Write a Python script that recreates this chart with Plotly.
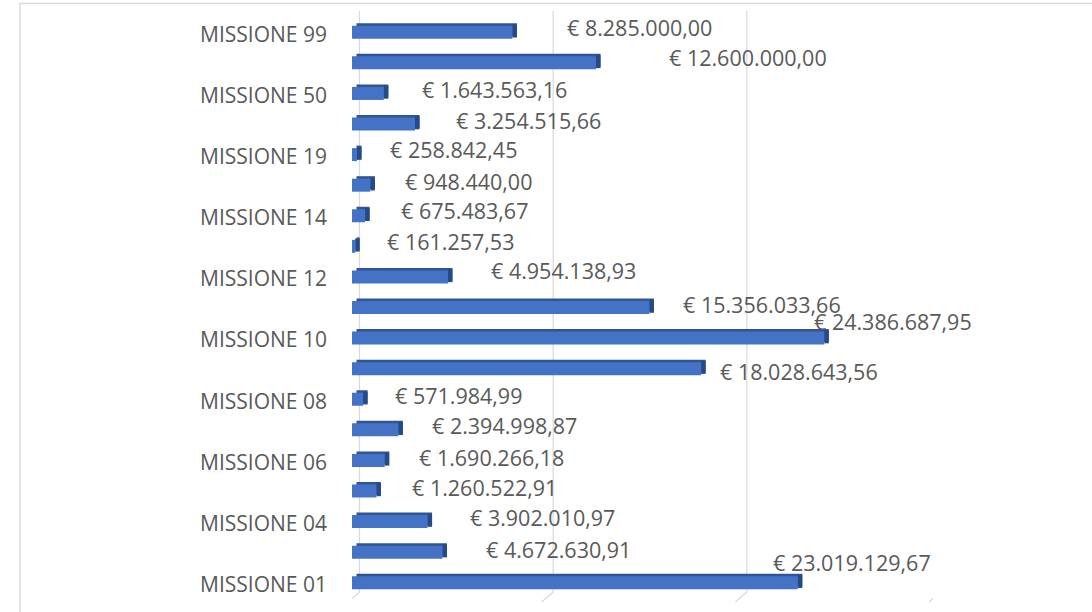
import plotly.graph_objects as go

# ---------------- data ----------------
categories = ["MISSIONE 01", "MISSIONE 03", "MISSIONE 04", "MISSIONE 05", "MISSIONE 06",
              "MISSIONE 07", "MISSIONE 08", "MISSIONE 09", "MISSIONE 10", "MISSIONE 11",
              "MISSIONE 12", "MISSIONE 13", "MISSIONE 14", "MISSIONE 16", "MISSIONE 19",
              "MISSIONE 20", "MISSIONE 50", "MISSIONE 60", "MISSIONE 99"]
values = [23019129.67, 4672630.91, 3902010.97, 1260522.91, 1690266.18,
          2394998.87, 571984.99, 18028643.56, 24386687.95, 15356033.66,
          4954138.93, 161257.53, 675483.67, 948440.00, 258842.45,
          3254515.66, 1643563.16, 12600000.00, 8285000.00]
shown_ticks = ["MISSIONE 01", "MISSIONE 04", "MISSIONE 06", "MISSIONE 08", "MISSIONE 10",
               "MISSIONE 12", "MISSIONE 14", "MISSIONE 19", "MISSIONE 50", "MISSIONE 99"]
grid_vals = [0, 10_000_000, 20_000_000, 30_000_000]

# ---------------- layout tweaks (label placement, px) ----------------
label_gap = [-25, 44, 42, 36, 34, 34, 32, 19, -10, 34, 43, 32, 36, 35, 33, 41, 38, 73, 55]
label_lift = [20, 3, 4, 3, 3, 4, 3.5, -2.5, 16.5, 3, 6, 5, 5, 4, 5, 4, 4, 5, 5]

W, H = 1092, 612
L, R, T, B = 352, 933, 17, 598
PW, PH = R - L, B - T
XMAX = 30_000_000
px_per_val = PW / XMAX
slot_px = PH / len(categories)

bar_w = 13 / slot_px
front_off = -bar_w / 2
depth_x_px, depth_y_px = 4.5, 2.5
depth_val = depth_x_px / px_per_val

FRONT = "#4472C4"
TOP = "#2F5597"
SIDE = "#264A88"
TXT = "#595959"
GRID = "#D9D9D9"
FONT = "Open Sans"


def fmt_eur(v):
    s = f"{v:,.2f}".replace(",", "X").replace(".", ",").replace("X", ".")
    return "€ " + s


def ypaper(py):
    return (B - py) / PH


fig = go.Figure()

# top face
fig.add_trace(go.Bar(
    orientation="h", y=categories, x=values, base=[depth_val] * len(values),
    width=bar_w, offset=front_off + depth_y_px / slot_px,
    marker=dict(color=TOP, line=dict(width=0)), hoverinfo="skip", showlegend=False))
# side face
fig.add_trace(go.Bar(
    orientation="h", y=categories, x=[depth_val] * len(values), base=values,
    width=bar_w, offset=front_off + (depth_y_px / 2) / slot_px,
    marker=dict(color=SIDE, line=dict(width=0)), hoverinfo="skip", showlegend=False))
# front face
fig.add_trace(go.Bar(
    orientation="h", y=categories, x=values,
    width=bar_w, offset=front_off,
    marker=dict(color=FRONT, line=dict(width=0)), showlegend=False))

# value labels
for cat, v, g, lift in zip(categories, values, label_gap, label_lift):
    fig.add_annotation(x=v, y=cat, xref="x", yref="y", text=fmt_eur(v),
                       showarrow=False, xanchor="left", yanchor="middle",
                       xshift=g - 2, yshift=lift,
                       font=dict(family=FONT, size=21.5, color=TXT))

shapes = []
# back-wall grid lines and floor ticks
for gv in grid_vals:
    shapes.append(dict(type="line", xref="x", xsizemode="pixel", xanchor=gv,
                       x0=7.5, x1=7.5, yref="paper", y0=ypaper(592), y1=ypaper(11),
                       line=dict(color=GRID, width=1.2), layer="below"))
    shapes.append(dict(type="line", xref="x", xsizemode="pixel", xanchor=gv,
                       x0=7.5, x1=-4, yref="paper", y0=ypaper(592), y1=ypaper(602),
                       line=dict(color=GRID, width=1.2), layer="below"))
# chart frame
shapes.append(dict(type="rect", xref="paper", yref="paper",
                   x0=(20 - L) / PW, x1=(W + 20 - L) / PW,
                   y0=ypaper(H + 20), y1=ypaper(3.5),
                   line=dict(color=GRID, width=1.5), fillcolor="rgba(0,0,0,0)", layer="below"))

fig.update_layout(
    width=W, height=H,
    margin=dict(l=L, r=W - R, t=T, b=H - B),
    paper_bgcolor="white", plot_bgcolor="white",
    barmode="overlay",
    shapes=shapes,
    xaxis=dict(range=[0, XMAX], showgrid=False, zeroline=False, showticklabels=False,
               showline=False, ticks="", fixedrange=True),
    yaxis=dict(type="category", categoryorder="array", categoryarray=categories,
               range=[-0.5, len(categories) - 0.5],
               tickmode="array", tickvals=shown_ticks, ticktext=shown_ticks,
               showgrid=False, zeroline=False, showline=False, ticks="",
               ticklabelstandoff=24, ticklabelshift=2,
               tickfont=dict(family=FONT, size=21, color=TXT), fixedrange=True),
    font=dict(family=FONT, color=TXT),
)

fig.write_html("out.html",
               config={"displayModeBar": False},
               post_script="document.body.style.margin='0px';document.body.style.overflow='hidden';")
